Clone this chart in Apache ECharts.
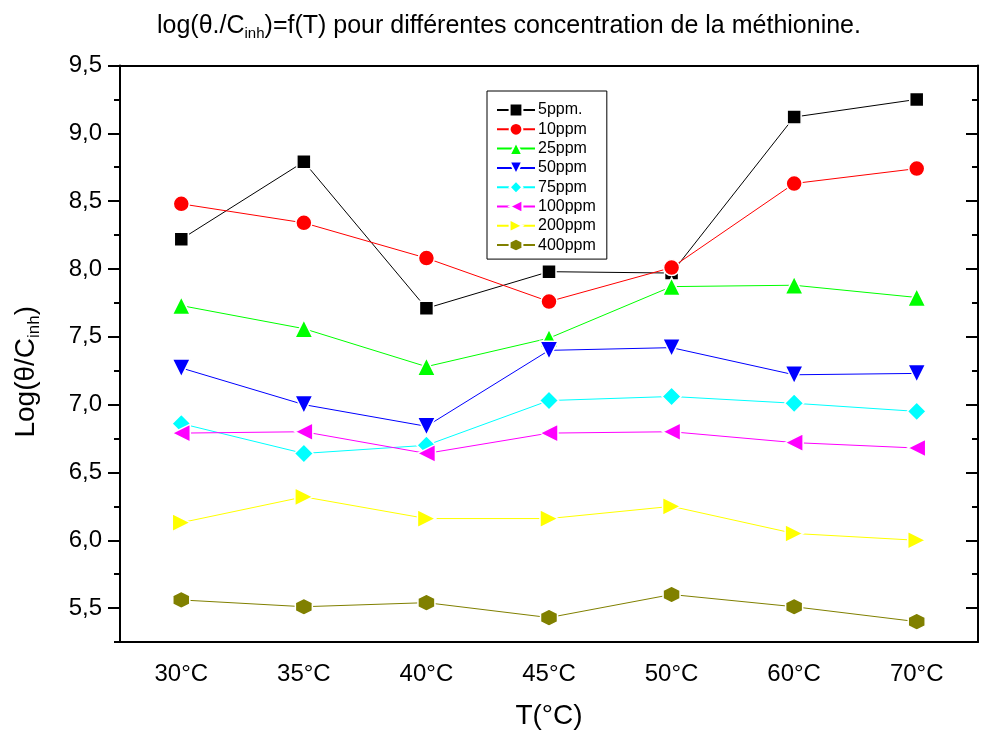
<!DOCTYPE html>
<html>
<head>
<meta charset="utf-8">
<script src="https://cdn.jsdelivr.net/npm/echarts@6/dist/echarts.min.js"></script>
<style>
  html, body { margin: 0; padding: 0; background: #fff; }
  #chart { width: 984px; height: 731px; }
</style>
</head>
<body>
<div id="chart"></div>
<script>
// Temperatures (x categories)
const temperatures = ['30°C', '35°C', '40°C', '45°C', '50°C', '60°C', '70°C'];

// log(θ/Cinh) for each methionine concentration
const ppm5   = [8.22, 8.79, 7.71, 7.98, 7.97, 9.12, 9.25];
const ppm10  = [8.48, 8.34, 8.08, 7.76, 8.01, 8.63, 8.74];
const ppm25  = [7.73, 7.56, 7.28, 7.49, 7.87, 7.88, 7.79];
const ppm50  = [7.27, 7.00, 6.84, 7.40, 7.42, 7.22, 7.23];
const ppm75  = [6.86, 6.64, 6.70, 7.03, 7.06, 7.01, 6.95];
const ppm100 = [6.79, 6.80, 6.64, 6.79, 6.80, 6.72, 6.68];
const ppm200 = [6.13, 6.32, 6.16, 6.16, 6.25, 6.05, 6.00];
const ppm400 = [5.56, 5.51, 5.54, 5.43, 5.60, 5.51, 5.40];

const seriesNames = ['5ppm.', '10ppm', '25ppm', '50ppm', '75ppm', '100ppm', '200ppm', '400ppm'];

// y-axis tick values
const majorTicks = [5.5, 6.0, 6.5, 7.0, 7.5, 8.0, 8.5, 9.0, 9.5];
const minorTicks = [5.25, 5.75, 6.25, 6.75, 7.25, 7.75, 8.25, 8.75, 9.25];

const FONT = 'Arial, "Liberation Sans", sans-serif';
const hexagon = 'path://M0,-1 L0.866,-0.5 L0.866,0.5 L0,1 L-0.866,0.5 L-0.866,-0.5 Z';

const styles = [
  { data: ppm5,   color: '#000000', symbol: 'rect',     size: 14, rotate: 0 },
  { data: ppm10,  color: '#ff0000', symbol: 'circle',   size: 16, rotate: 0 },
  { data: ppm25,  color: '#00ff00', symbol: 'triangle', size: 18, rotate: 0 },
  { data: ppm50,  color: '#0000ff', symbol: 'triangle', size: 18, rotate: 180 },
  { data: ppm75,  color: '#00ffff', symbol: 'diamond',  size: 19, rotate: 0 },
  { data: ppm100, color: '#ff00ff', symbol: 'triangle', size: 18, rotate: 90 },
  { data: ppm200, color: '#ffff00', symbol: 'triangle', size: 18, rotate: -90 },
  { data: ppm400, color: '#808000', symbol: hexagon,    size: 17, rotate: 0 }
];

const series = styles.map((s, i) => ({
  name: seriesNames[i],
  type: 'line',
  data: s.data,
  symbol: s.symbol,
  symbolSize: s.size,
  symbolRotate: s.rotate,
  showAllSymbol: true,
  lineStyle: { color: s.color, width: 1 },
  itemStyle: { color: s.color, borderColor: '#ffffff', borderWidth: 1.5 },
  emphasis: { disabled: true },
  z: 3 + i
}));

const axisLineStyle = { color: '#000', width: 2 };

const option = {
  animation: false,
  backgroundColor: '#ffffff',
  textStyle: { fontFamily: FONT },
  title: {
    text: '{a|log(θ./C}{s|inh}{a|)=f(T) pour différentes concentration de la méthionine.}',
    left: 152,
    top: 6,
    textStyle: {
      fontWeight: 'normal',
      rich: {
        a: { fontFamily: FONT, fontSize: 25, fontWeight: 'normal', color: '#000', lineHeight: 30 },
        s: { fontFamily: FONT, fontSize: 15, fontWeight: 'normal', color: '#000', lineHeight: 12, verticalAlign: 'bottom' }
      }
    }
  },
  legend: {
    orient: 'vertical',
    left: 487,
    top: 91,
    width: 120,
    padding: [11, 11, 6, 9],
    itemWidth: 38,
    itemHeight: 16,
    itemGap: 3.3,
    borderColor: '#000',
    borderWidth: 1,
    selectedMode: false,
    textStyle: { fontFamily: FONT, fontSize: 16, color: '#000', padding: [0, 0, 0, -2] },
    data: seriesNames
  },
  grid: { left: 120, right: 6, top: 65.5, bottom: 89, containLabel: false, outerBoundsMode: 'none' },
  xAxis: [
    {
      type: 'category',
      data: temperatures,
      boundaryGap: true,
      position: 'bottom',
      axisLine: { lineStyle: axisLineStyle },
      axisTick: { alignWithLabel: true, length: 12, lineStyle: { width: 2, color: '#000' } },
      axisLabel: { fontFamily: FONT, fontSize: 24, color: '#000', margin: 20 },
      name: 'T(°C)',
      nameLocation: 'middle',
      nameGap: 60,
      nameTextStyle: { fontFamily: FONT, fontSize: 28, color: '#000' },
      splitLine: { show: false }
    },
    {
      // boundary ticks between categories
      type: 'category',
      data: temperatures,
      boundaryGap: true,
      position: 'bottom',
      axisLine: { show: false },
      axisTick: { alignWithLabel: false, length: 7, lineStyle: { width: 2, color: '#000' } },
      axisLabel: { show: false },
      splitLine: { show: false }
    },
    {
      // top frame
      type: 'category',
      data: temperatures,
      boundaryGap: true,
      position: 'top',
      axisLine: { lineStyle: axisLineStyle },
      axisTick: { inside: true, alignWithLabel: true, length: 2, lineStyle: { width: 1, color: '#000' } },
      axisLabel: { show: false },
      splitLine: { show: false }
    }
  ],
  yAxis: [
    {
      type: 'value',
      min: 5.25,
      max: 9.5,
      position: 'left',
      axisLine: { show: true, lineStyle: axisLineStyle },
      axisTick: { show: true, length: 12, customValues: majorTicks, lineStyle: { width: 2, color: '#000' } },
      axisLabel: {
        customValues: majorTicks,
        fontFamily: FONT, fontSize: 24, color: '#000', margin: 18,
        formatter: v => v.toFixed(1).replace('.', ',')
      },
      splitLine: { show: false },
      name: '{a|Log(θ/C}{s|inh}{a|)}',
      nameLocation: 'middle',
      nameGap: 77,
      nameRotate: 90,
      nameTextStyle: {
        padding: [0, 36, 0, 0],
        rich: {
          a: { fontFamily: FONT, fontSize: 28, color: '#000', lineHeight: 34 },
          s: { fontFamily: FONT, fontSize: 17, color: '#000', lineHeight: 14, verticalAlign: 'bottom' }
        }
      }
    },
    {
      // minor ticks on the left
      type: 'value',
      min: 5.25,
      max: 9.5,
      position: 'left',
      axisLine: { show: false },
      axisTick: { show: true, length: 6, customValues: minorTicks, lineStyle: { width: 2, color: '#000' } },
      axisLabel: { show: false },
      splitLine: { show: false }
    },
    {
      // right frame with inward major ticks
      type: 'value',
      min: 5.25,
      max: 9.5,
      position: 'right',
      axisLine: { show: true, lineStyle: axisLineStyle },
      axisTick: { show: true, inside: true, length: 12, customValues: majorTicks, lineStyle: { width: 2, color: '#000' } },
      axisLabel: { show: false },
      splitLine: { show: false }
    },
    {
      // right frame inward minor ticks
      type: 'value',
      min: 5.25,
      max: 9.5,
      position: 'right',
      axisLine: { show: false },
      axisTick: { show: true, inside: true, length: 6, customValues: minorTicks, lineStyle: { width: 2, color: '#000' } },
      axisLabel: { show: false },
      splitLine: { show: false }
    }
  ],
  series: series
};

const chart = echarts.init(document.getElementById('chart'), null, { renderer: 'canvas' });
chart.setOption(option);
</script>
</body>
</html>
